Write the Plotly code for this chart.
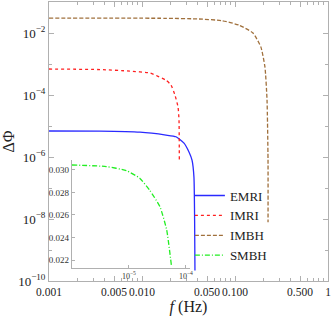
import plotly.graph_objects as go

# ---- data ----
emri_f = [0.001, 0.0035, 0.0095, 0.0181, 0.0232, 0.0283, 0.032, 0.0345, 0.0362, 0.0368, 0.0371]
emri_phi = [6.9e-6, 6.8e-6, 6.3e-6, 5.1e-6, 4.5e-6, 2.8e-6, 1.45e-6, 7.9e-7, 2.2e-7, 9e-9, 2.2e-10]

imri_f = [0.001, 0.00355, 0.0074, 0.0122, 0.0181, 0.0205, 0.0226, 0.0244, 0.025, 0.0252, 0.02523]
imri_phi = [6.9e-4, 6.6e-4, 5.9e-4, 5.1e-4, 3.0e-4, 2.1e-4, 1.0e-4, 4.1e-5, 1.55e-5, 7.9e-7, 7.4e-8]

imbh_f = [0.001, 0.0181, 0.041, 0.0724, 0.110, 0.156, 0.19, 0.21, 0.221, 0.2265, 0.2266]
imbh_phi = [0.030, 0.0298, 0.0283, 0.025, 0.018, 0.010, 3.5e-3, 7.9e-4, 6.9e-5, 7.9e-7, 7.9e-9]

smbh_f = [1e-6, 4e-6, 9e-6, 1.55e-5, 2.3e-5, 3.5e-5, 4.6e-5, 5.6e-5]
smbh_phi = [0.03044, 0.0303, 0.02994, 0.02926, 0.02822, 0.02674, 0.02467, 0.0214]

x_tickvals = [0.001, 0.005, 0.01, 0.05, 0.1, 0.5, 1]
x_ticktext = ["0.001", "0.005", "0.010", "0.050", "0.100", "0.500", "1"]
y_tickvals = [1e-2, 1e-4, 1e-6, 1e-8, 1e-10]
y_ticktext = ["10<sup>−2</sup>", "10<sup>−4</sup>", "10<sup>−6</sup>", "10<sup>−8</sup>", "10<sup>−10</sup>"]
inset_x_tickvals = [1e-5, 1e-4]
inset_x_ticktext = ["10<sup>−5</sup>", "10<sup>−4</sup>"]
inset_y_tickvals = [0.022, 0.024, 0.026, 0.028, 0.030]
inset_y_ticktext = ["0.022", "0.024", "0.026", "0.028", "0.030"]

FONT = "Liberation Serif, Times New Roman, DejaVu Serif, serif"
GRAY = "#b0b0b0"
TXT = "#222222"

fig = go.Figure()
fig.add_trace(go.Scatter(x=emri_f, y=emri_phi, mode="lines", name="EMRI",
                         line=dict(color="#2a2aff", width=1.3, shape="spline", smoothing=0.5)))
fig.add_trace(go.Scatter(x=imri_f, y=imri_phi, mode="lines", name="IMRI",
                         line=dict(color="#ff2020", width=1.3, dash="dot", shape="spline", smoothing=0.5)))
fig.add_trace(go.Scatter(x=imbh_f, y=imbh_phi, mode="lines", name="IMBH",
                         line=dict(color="#a0703c", width=1.3, dash="4px,2px", shape="spline", smoothing=0.5)))
fig.add_trace(go.Scatter(x=smbh_f, y=smbh_phi, mode="lines", name="SMBH",
                         xaxis="x2", yaxis="y2",
                         line=dict(color="#22ee22", width=1.3, dash="5px,2px,1px,2px",
                                   shape="spline", smoothing=0.5)))

minor_x = [m * 10 ** e for e in (-3, -2, -1) for m in range(2, 10)]
minor_y = [10.0 ** e for e in (-1, -3, -5, -7, -9)]

fig.update_layout(
    width=332, height=319,
    margin=dict(l=49, r=4, t=2, b=38, autoexpand=False),
    paper_bgcolor="white", plot_bgcolor="white",
    font=dict(family=FONT, color=TXT),
    showlegend=True,
    legend=dict(x=0.505, y=0.36, xanchor="left", yanchor="top",
                bgcolor="rgba(0,0,0,0)", font=dict(family=FONT, size=13, color=TXT),
                tracegroupgap=0, itemwidth=30),
    xaxis=dict(type="log", range=[-3, 0], domain=[0, 1], automargin=False,
               tickvals=x_tickvals, ticktext=x_ticktext, tickangle=0,
               ticks="inside", ticklen=5, tickcolor=GRAY,
               showline=True, linecolor=GRAY, linewidth=1, mirror="ticks",
               showgrid=False, zeroline=False,
               tickfont=dict(family=FONT, size=11.5, color=TXT),
               minor=dict(tickvals=minor_x, ticks="inside", ticklen=3, tickcolor=GRAY, showgrid=False),
               title=dict(text="<i>f</i> (Hz)", font=dict(family=FONT, size=16, color=TXT), standoff=4)),
    yaxis=dict(type="log", range=[-10, -1], domain=[0, 1], automargin=False,
               tickvals=y_tickvals, ticktext=y_ticktext,
               ticks="inside", ticklen=5, tickcolor=GRAY,
               showline=True, linecolor=GRAY, linewidth=1, mirror="ticks",
               showgrid=False, zeroline=False,
               tickfont=dict(family=FONT, size=13, color=TXT),
               minor=dict(tickvals=minor_y, ticks="inside", ticklen=3, tickcolor=GRAY, showgrid=False),
               title=dict(text="ΔΦ", font=dict(family=FONT, size=16, color=TXT), standoff=2)),
    xaxis2=dict(type="log", range=[-6, -3.93], domain=[0.082, 0.505], anchor="y2", automargin=False,
                tickvals=inset_x_tickvals, ticktext=inset_x_ticktext, tickangle=0,
                ticks="inside", ticklen=3, tickcolor=GRAY,
                showline=True, linecolor=GRAY, linewidth=1, mirror=False,
                showgrid=False, zeroline=False,
                tickfont=dict(family=FONT, size=8, color="#333333")),
    yaxis2=dict(range=[0.02129, 0.03089], domain=[0.0466, 0.434], anchor="x2", automargin=False,
                tickvals=inset_y_tickvals, ticktext=inset_y_ticktext,
                ticks="inside", ticklen=3, tickcolor=GRAY,
                showline=True, linecolor=GRAY, linewidth=1, mirror=False,
                showgrid=False, zeroline=False,
                tickfont=dict(family=FONT, size=9, color="#333333")),
)

fig.write_html("out.html",
               config={"displayModeBar": False},
               post_script="document.body.style.margin='0';document.body.style.padding='0';"
                           "document.documentElement.style.overflow='hidden';")
